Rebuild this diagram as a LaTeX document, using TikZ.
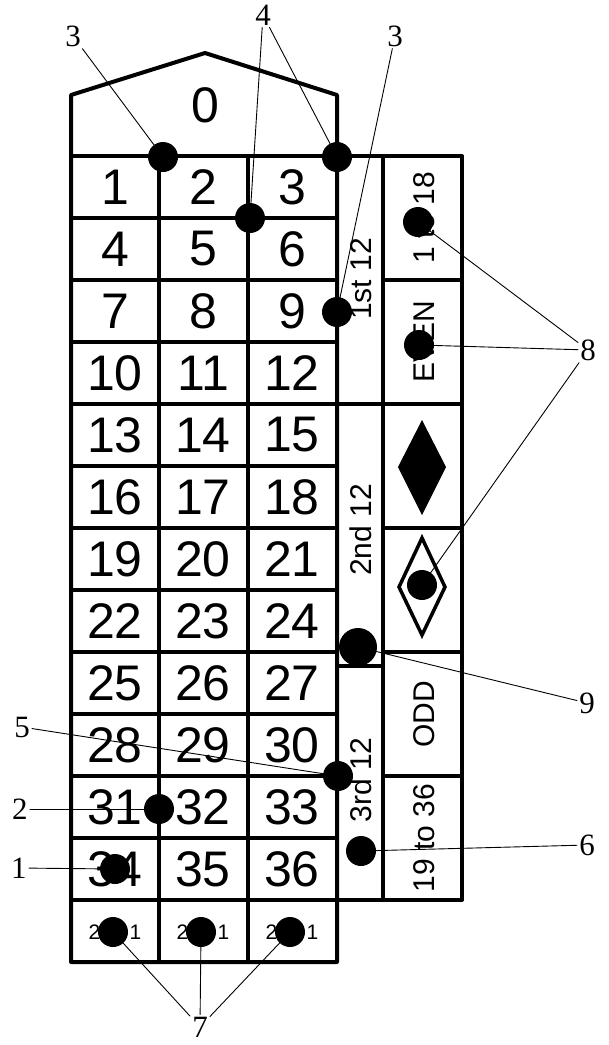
\documentclass[tikz,border=0pt]{standalone}
\usepackage{fontspec}
\newfontfamily\boardfont{Liberation Sans}
\newfontfamily\calloutfont{Liberation Serif}

\begin{document}
\begin{tikzpicture}[x=1pt,y=-1pt,line cap=round,line join=round,
  board/.style={line width=4pt},
  num/.style={font=\boardfont\fontsize{50}{50}\selectfont,inner sep=0pt},
  side/.style={font=\boardfont\fontsize{30}{30}\selectfont,rotate=90,inner sep=0pt},
  small/.style={font=\boardfont\fontsize{21}{21}\selectfont,inner sep=0pt},
  chip/.style={circle,fill=black,inner sep=0pt,minimum size=30pt},
  callout/.style={font=\calloutfont\fontsize{31}{31}\selectfont,inner sep=2pt},
  leader/.style={line width=0.9pt}]
\useasboundingbox (0,0) rectangle (609,1045);
% the board
\draw[board] (71,962) -- (71,95) -- (205,53) -- (337,95) -- (337,962) -- cycle;
\draw[board] (159,156) -- (159,962);
\draw[board] (248,156) -- (248,962);
\draw[board] (71,156) -- (462,156) -- (462,900) -- (337,900);
\draw[board] (383,156) -- (383,900);
\draw[board] (71,218) -- (337,218) (71,280) -- (337,280) (71,342) -- (337,342) (71,404) -- (337,404);
\draw[board] (71,466) -- (337,466) (71,528) -- (337,528) (71,590) -- (337,590) (71,652) -- (337,652);
\draw[board] (71,714) -- (337,714) (71,776) -- (337,776) (71,838) -- (337,838) (71,900) -- (337,900);
\draw[board] (337,404) -- (462,404) (337,666) -- (383,666);
\draw[board] (383,280) -- (462,280) (383,528) -- (462,528) (383,652) -- (462,652) (383,776) -- (462,776);
% numbers
\node[num] (n0) at (205,105) {0};
\node[num] (n1) at (115,187) {1};
\node[num] (n2) at (203,187) {2};
\node[num] (n3) at (292,187) {3};
\node[num] (n4) at (115,249) {4};
\node[num] (n5) at (203,249) {5};
\node[num] (n6) at (292,249) {6};
\node[num] (n7) at (115,311) {7};
\node[num] (n8) at (203,311) {8};
\node[num] (n9) at (292,311) {9};
\node[num] (n10) at (115,373) {10};
\node[num] (n11) at (203,373) {11};
\node[num] (n12) at (292,373) {12};
\node[num] (n13) at (115,435) {13};
\node[num] (n14) at (203,435) {14};
\node[num] (n15) at (292,435) {15};
\node[num] (n16) at (115,497) {16};
\node[num] (n17) at (203,497) {17};
\node[num] (n18) at (292,497) {18};
\node[num] (n19) at (115,559) {19};
\node[num] (n20) at (203,559) {20};
\node[num] (n21) at (292,559) {21};
\node[num] (n22) at (115,621) {22};
\node[num] (n23) at (203,621) {23};
\node[num] (n24) at (292,621) {24};
\node[num] (n25) at (115,683) {25};
\node[num] (n26) at (203,683) {26};
\node[num] (n27) at (292,683) {27};
\node[num] (n28) at (115,745) {28};
\node[num] (n29) at (203,745) {29};
\node[num] (n30) at (292,745) {30};
\node[num] (n31) at (115,807) {31};
\node[num] (n32) at (203,807) {32};
\node[num] (n33) at (292,807) {33};
\node[num] (n34) at (115,869) {34};
\node[num] (n35) at (203,869) {35};
\node[num] (n36) at (292,869) {36};
\node[small] (col1) at (115,932) {2 to 1};
\node[small] (col2) at (203,932) {2 to 1};
\node[small] (col3) at (292,932) {2 to 1};
% outside bets
\node[side] (doz1) at (361,279) {1st 12};
\node[side] (doz2) at (361,530) {2nd 12};
\node[side] (doz3) at (361,780) {3rd 12};
\node[side] (low) at (424,218) {1 to 18};
\node[side] (even) at (424,342) {EVEN};
\node[side] (odd) at (424,714) {ODD};
\node[side] (high) at (424,838) {19 to 36};
\fill (422,420) -- (446,467) -- (422,515) -- (398,467) -- cycle;
\draw[line width=3.5pt,line join=miter] (422,538) -- (445,587) -- (422,635) -- (399,587) -- cycle;
% callouts
\node[callout] (l3a) at (73,36) {3};
\node[callout] (l4) at (263,15) {4};
\node[callout] (l3b) at (395,36) {3};
\node[callout] (l8) at (588,350) {8};
\node[callout] (l9) at (587,703) {9};
\node[callout] (l6) at (587,845) {6};
\node[callout] (l5) at (22,727) {5};
\node[callout] (l2) at (20,809) {2};
\node[callout] (l1) at (19,868) {1};
\node[callout] (l7) at (200,1027) {7};
\node[chip] (d3a) at (163,157) {};
\node[chip] (d4a) at (250,218) {};
\node[chip] (d4b) at (337,157) {};
\node[chip] (d3b) at (337,312) {};
\node[chip] (d8a) at (418,222) {};
\node[chip] (d8b) at (419,345) {};
\node[chip] (d8c) at (422,585) {};
\node[chip,minimum size=38pt] (d9) at (358,647) {};
\node[chip] (d5) at (338,776) {};
\node[chip] (d2) at (159,809) {};
\node[chip] (d1) at (115,869) {};
\node[chip] (d6) at (361,851) {};
\node[chip] (d7a) at (113,932) {};
\node[chip] (d7b) at (201,932) {};
\node[chip] (d7c) at (290,932) {};
\draw[leader] (l3a) -- (d3a.center);
\draw[leader] (l4) -- (d4a.center);
\draw[leader] (l4) -- (d4b.center);
\draw[leader] (l3b) -- (d3b.center);
\draw[leader] (l8) -- (d8a.center);
\draw[leader] (l8) -- (d8b.center);
\draw[leader] (l8) -- (d8c.center);
\draw[leader] (l9) -- (d9.center);
\draw[leader] (l6) -- (d6.center);
\draw[leader] (l5) -- (d5.center);
\draw[leader] (l2) -- (d2.center);
\draw[leader] (l1) -- (d1.center);
\draw[leader] (l7) -- (d7a.center);
\draw[leader] (l7) -- (d7b.center);
\draw[leader] (l7) -- (d7c.center);
\end{tikzpicture}
\end{document}
